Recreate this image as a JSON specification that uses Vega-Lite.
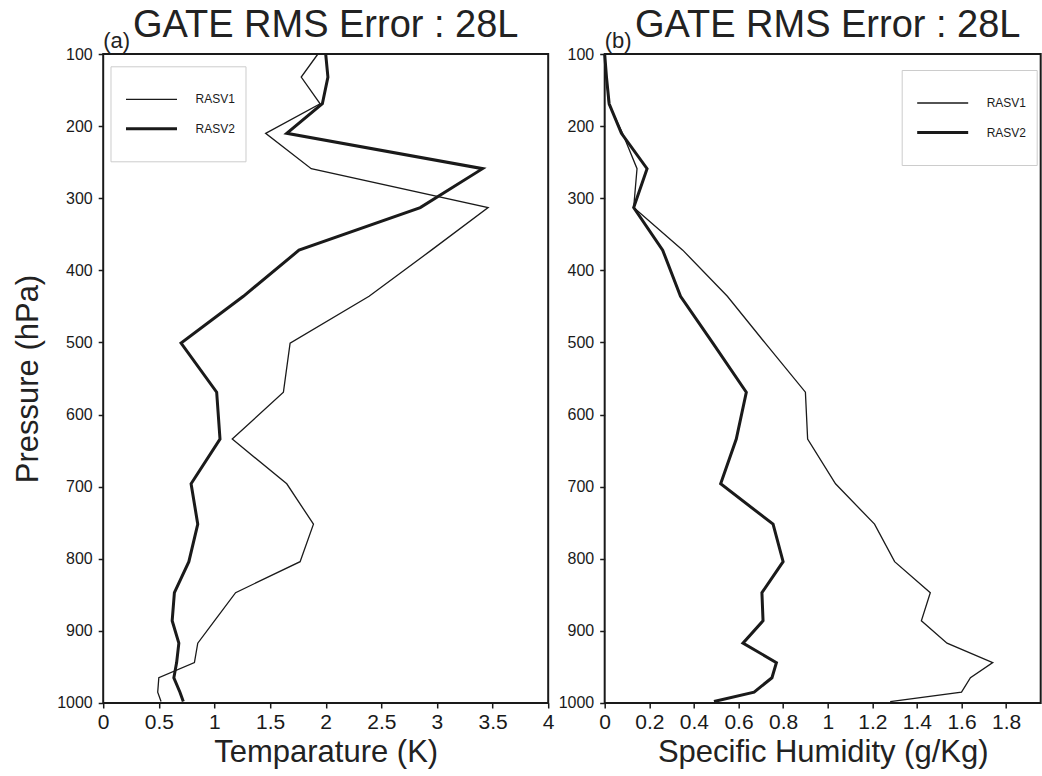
{
  "$schema": "https://vega.github.io/schema/vega-lite/v6.json",
  "background": "white",
  "padding": {"left": 10.2, "top": 5, "right": 0, "bottom": 0},
  "spacing": 1.5,
  "resolve": {"legend": {"strokeWidth": "independent"}},
  "datasets": {
    "temp": [
      {"p": 100, "v": 1.93, "model": "RASV1"}, {"p": 132, "v": 1.78, "model": "RASV1"}, {"p": 169, "v": 1.95, "model": "RASV1"},
      {"p": 210, "v": 1.46, "model": "RASV1"}, {"p": 259, "v": 1.87, "model": "RASV1"}, {"p": 313, "v": 3.46, "model": "RASV1"},
      {"p": 372, "v": 2.95, "model": "RASV1"}, {"p": 436, "v": 2.39, "model": "RASV1"}, {"p": 501, "v": 1.68, "model": "RASV1"},
      {"p": 569, "v": 1.62, "model": "RASV1"}, {"p": 634, "v": 1.16, "model": "RASV1"}, {"p": 696, "v": 1.65, "model": "RASV1"},
      {"p": 752, "v": 1.89, "model": "RASV1"}, {"p": 804, "v": 1.77, "model": "RASV1"}, {"p": 847, "v": 1.19, "model": "RASV1"},
      {"p": 886, "v": 1.0, "model": "RASV1"}, {"p": 917, "v": 0.85, "model": "RASV1"}, {"p": 944, "v": 0.82, "model": "RASV1"},
      {"p": 965, "v": 0.5, "model": "RASV1"}, {"p": 985, "v": 0.49, "model": "RASV1"}, {"p": 998, "v": 0.52, "model": "RASV1"},
      {"p": 100, "v": 2.0, "model": "RASV2"}, {"p": 132, "v": 2.02, "model": "RASV2"}, {"p": 169, "v": 1.97, "model": "RASV2"},
      {"p": 210, "v": 1.65, "model": "RASV2"}, {"p": 259, "v": 3.41, "model": "RASV2"}, {"p": 313, "v": 2.85, "model": "RASV2"},
      {"p": 372, "v": 1.76, "model": "RASV2"}, {"p": 436, "v": 1.26, "model": "RASV2"}, {"p": 501, "v": 0.7, "model": "RASV2"},
      {"p": 569, "v": 1.02, "model": "RASV2"}, {"p": 634, "v": 1.05, "model": "RASV2"}, {"p": 696, "v": 0.79, "model": "RASV2"},
      {"p": 752, "v": 0.85, "model": "RASV2"}, {"p": 804, "v": 0.77, "model": "RASV2"}, {"p": 847, "v": 0.64, "model": "RASV2"},
      {"p": 886, "v": 0.62, "model": "RASV2"}, {"p": 917, "v": 0.68, "model": "RASV2"}, {"p": 944, "v": 0.66, "model": "RASV2"},
      {"p": 965, "v": 0.635, "model": "RASV2"}, {"p": 985, "v": 0.69, "model": "RASV2"}, {"p": 998, "v": 0.72, "model": "RASV2"}
    ],
    "hum": [
      {"p": 100, "v": 0.0, "model": "RASV1"}, {"p": 132, "v": 0.008, "model": "RASV1"}, {"p": 169, "v": 0.018, "model": "RASV1"},
      {"p": 210, "v": 0.08, "model": "RASV1"}, {"p": 259, "v": 0.145, "model": "RASV1"}, {"p": 313, "v": 0.13, "model": "RASV1"},
      {"p": 372, "v": 0.35, "model": "RASV1"}, {"p": 436, "v": 0.55, "model": "RASV1"}, {"p": 501, "v": 0.72, "model": "RASV1"},
      {"p": 569, "v": 0.9, "model": "RASV1"}, {"p": 634, "v": 0.91, "model": "RASV1"}, {"p": 696, "v": 1.035, "model": "RASV1"},
      {"p": 752, "v": 1.21, "model": "RASV1"}, {"p": 804, "v": 1.3, "model": "RASV1"}, {"p": 847, "v": 1.46, "model": "RASV1"},
      {"p": 886, "v": 1.42, "model": "RASV1"}, {"p": 917, "v": 1.535, "model": "RASV1"}, {"p": 944, "v": 1.74, "model": "RASV1"},
      {"p": 965, "v": 1.64, "model": "RASV1"}, {"p": 985, "v": 1.6, "model": "RASV1"}, {"p": 998, "v": 1.28, "model": "RASV1"},
      {"p": 100, "v": 0.0, "model": "RASV2"}, {"p": 132, "v": 0.008, "model": "RASV2"}, {"p": 169, "v": 0.02, "model": "RASV2"},
      {"p": 210, "v": 0.075, "model": "RASV2"}, {"p": 259, "v": 0.19, "model": "RASV2"}, {"p": 313, "v": 0.13, "model": "RASV2"},
      {"p": 372, "v": 0.26, "model": "RASV2"}, {"p": 436, "v": 0.34, "model": "RASV2"}, {"p": 501, "v": 0.485, "model": "RASV2"},
      {"p": 569, "v": 0.635, "model": "RASV2"}, {"p": 634, "v": 0.59, "model": "RASV2"}, {"p": 696, "v": 0.52, "model": "RASV2"},
      {"p": 752, "v": 0.755, "model": "RASV2"}, {"p": 804, "v": 0.8, "model": "RASV2"}, {"p": 847, "v": 0.705, "model": "RASV2"},
      {"p": 886, "v": 0.71, "model": "RASV2"}, {"p": 917, "v": 0.62, "model": "RASV2"}, {"p": 944, "v": 0.77, "model": "RASV2"},
      {"p": 965, "v": 0.75, "model": "RASV2"}, {"p": 985, "v": 0.67, "model": "RASV2"}, {"p": 998, "v": 0.49, "model": "RASV2"}
    ]
  },
  "config": {
    "font": "Liberation Sans",
    "view": {"stroke": "#1a1a1a", "strokeWidth": 2},
    "axis": {
      "grid": false, "domain": false,
      "tickColor": "#1a1a1a", "tickWidth": 1.5, "tickSize": 5,
      "labelColor": "#1a1a1a", "titleColor": "#222222", "titleFontWeight": "normal",
      "titleFont": "Liberation Sans"
    },
    "title": {"fontSize": 38, "fontWeight": "normal", "color": "#222222", "anchor": "middle", "frame": "group", "baseline": "alphabetic", "offset": -15},
    "legend": {
      "orient": "none", "symbolType": "M-1.159,0H1.159", "symbolSize": 1936,
      "symbolStrokeColor": "#1a1a1a", "symbolOffset": 7.5,
      "labelFontSize": 12, "labelFont": "Liberation Sans Narrow, Liberation Sans",
      "labelColor": "#1a1a1a", "labelOffset": 20.5, "padding": 10, "rowPadding": -7,
      "titleOrient": "bottom", "titleFontSize": 12, "titlePadding": 5,
      "strokeColor": "#cccccc", "fillColor": "white"
    }
  },
  "hconcat": [
    {
      "width": 445, "height": 649,
      "title": {"text": "GATE RMS Error : 28L"},
      "layer": [
        {
          "data": {"name": "temp"},
          "mark": {"type": "line", "color": "#1a1a1a"},
          "encoding": {
            "x": {"field": "v", "type": "quantitative",
              "scale": {"domain": [0, 4], "nice": false, "zero": false},
              "axis": {"values": [0, 0.5, 1, 1.5, 2, 2.5, 3, 3.5, 4], "format": "~g", "title": "Temparature (K)",
                "titleFontSize": 31, "titlePadding": 5, "labelFontSize": 21, "labelPadding": 4, "labelFlush": false,
                "labelFont": "Liberation Sans Narrow, Liberation Sans"}},
            "y": {"field": "p", "type": "quantitative",
              "scale": {"domain": [100, 1000], "reverse": true, "nice": false, "zero": false},
              "axis": {"values": [100, 200, 300, 400, 500, 600, 700, 800, 900, 1000], "format": "d", "title": "Pressure (hPa)",
                "titleFontSize": 31, "titlePadding": 12.6, "labelFontSize": 16, "labelPadding": 6}},
            "order": {"field": "p", "type": "quantitative"},
            "strokeWidth": {"field": "model", "type": "nominal",
              "scale": {"domain": ["RASV1", "RASV2"], "range": [1.3, 3]},
              "legend": {"title": " ", "legendX": 7.3, "legendY": 12.3}}
          }
        },
        {
          "data": {"values": [{"label": "(a)"}]},
          "mark": {"type": "text", "align": "left", "baseline": "alphabetic", "fontSize": 22, "dy": -6.5, "color": "#222222"},
          "encoding": {"x": {"datum": 0}, "y": {"datum": 100}, "text": {"field": "label"}}
        }
      ]
    },
    {
      "width": 436, "height": 649,
      "title": {"text": "GATE RMS Error : 28L", "dx": 5},
      "layer": [
        {
          "data": {"name": "hum"},
          "mark": {"type": "line", "color": "#1a1a1a"},
          "encoding": {
            "x": {"field": "v", "type": "quantitative",
              "scale": {"domain": [0, 1.955], "nice": false, "zero": false},
              "axis": {"values": [0, 0.2, 0.4, 0.6, 0.8, 1, 1.2, 1.4, 1.6, 1.8], "format": "~g", "title": "Specific Humidity (g/Kg)",
                "titleFontSize": 31, "titlePadding": 5, "labelFontSize": 21, "labelPadding": 4, "labelFlush": false,
                "labelFont": "Liberation Sans Narrow, Liberation Sans"}},
            "y": {"field": "p", "type": "quantitative",
              "scale": {"domain": [100, 1000], "reverse": true, "nice": false, "zero": false},
              "axis": {"values": [100, 200, 300, 400, 500, 600, 700, 800, 900, 1000], "format": "d", "title": null,
                "labelFontSize": 16, "labelPadding": 6}},
            "order": {"field": "p", "type": "quantitative"},
            "strokeWidth": {"field": "model", "type": "nominal",
              "scale": {"domain": ["RASV1", "RASV2"], "range": [1.3, 3]},
              "legend": {"title": " ", "legendX": 297, "legendY": 16}}
          }
        },
        {
          "data": {"values": [{"label": "(b)"}]},
          "mark": {"type": "text", "align": "left", "baseline": "alphabetic", "fontSize": 22, "dy": -6.5, "color": "#222222"},
          "encoding": {"x": {"datum": 0}, "y": {"datum": 100}, "text": {"field": "label"}}
        }
      ]
    }
  ]
}
